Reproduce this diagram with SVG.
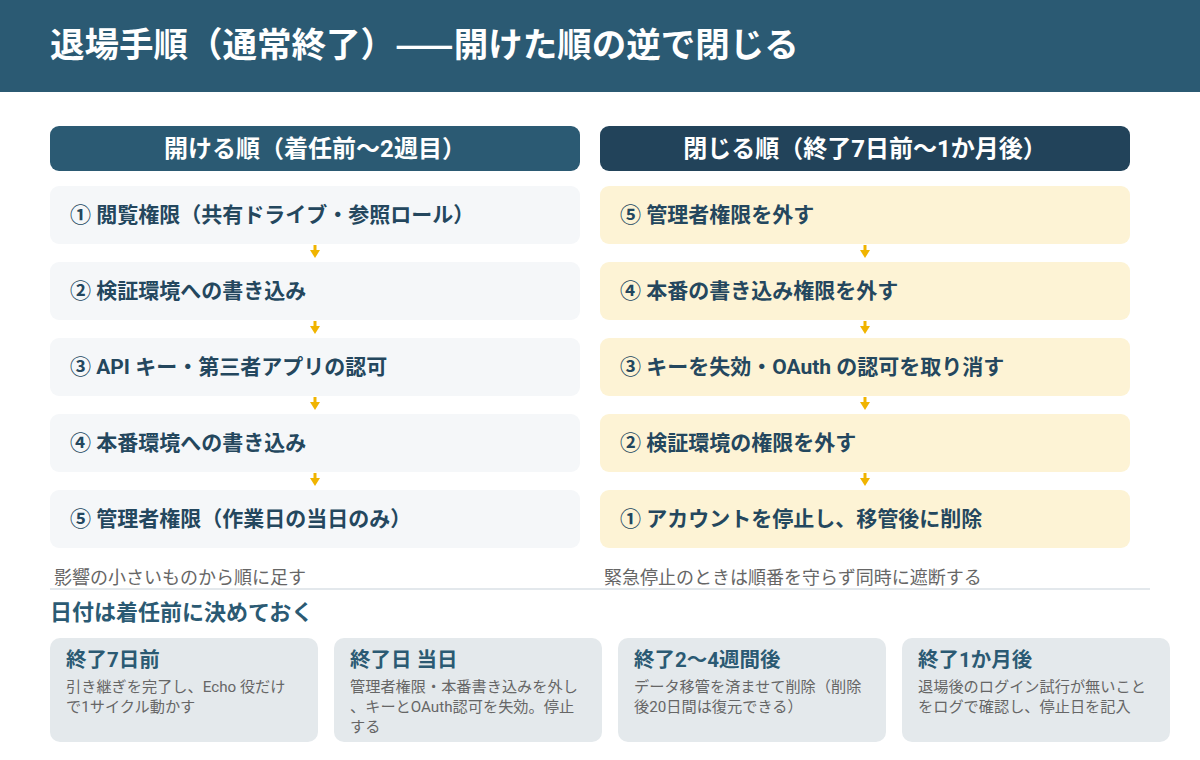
<svg xmlns="http://www.w3.org/2000/svg" width="1200" height="760" viewBox="0 0 1200 760">
<defs>
<style>
text{font-family:Roboto,"Noto Sans CJK JP","Noto Sans",sans-serif}
.title{font-size:34.5px;font-weight:700;fill:#ffffff;font-family:"Noto Sans CJK JP",sans-serif}
.colh{font-size:24px;font-weight:700;fill:#ffffff}
.step{font-size:21px;font-weight:700;fill:#24475e}
.boxL{fill:#f5f7f9}
.boxR{fill:#fdf3d5}
.note{font-size:18px;fill:#666666}
.sec{font-size:22px;font-weight:700;fill:#2b5a73}
.card{fill:#e4e9ec}
.ct{font-size:20.5px;font-weight:700;fill:#2b5a73}
.cb{font-size:15.2px;fill:#666666}
.arr{stroke:#f0b400;stroke-width:3;fill:none}
.ah{fill:#f0b400}
</style>
</defs>
<rect x="0" y="0" width="1200" height="92" fill="#2b5a73"/>
<text class="title" x="50" y="57">退場手順（通常終了）——開けた順の逆で閉じる</text>

<g id="colhead-open">
<rect x="50" y="126" width="530" height="45" rx="9" fill="#2b5a73"/>
<text class="colh" x="315" y="157" text-anchor="middle">開ける順（着任前〜2週目）</text>
</g>
<g id="colhead-close">
<rect x="600" y="126" width="530" height="45" rx="9" fill="#22435a"/>
<text class="colh" x="865" y="157" text-anchor="middle">閉じる順（終了7日前〜1か月後）</text>
</g>

<g id="open1"><rect class="boxL" x="50" y="186" width="530" height="58" rx="9"/><text class="step" x="70" y="222">① 閲覧権限（共有ドライブ・参照ロール）</text></g>
<g id="open2"><rect class="boxL" x="50" y="262" width="530" height="58" rx="9"/><text class="step" x="70" y="298">② 検証環境への書き込み</text></g>
<g id="open3"><rect class="boxL" x="50" y="338" width="530" height="58" rx="9"/><text class="step" x="70" y="374">③ API キー・第三者アプリの認可</text></g>
<g id="open4"><rect class="boxL" x="50" y="414" width="530" height="58" rx="9"/><text class="step" x="70" y="450">④ 本番環境への書き込み</text></g>
<g id="open5"><rect class="boxL" x="50" y="490" width="530" height="58" rx="9"/><text class="step" x="70" y="526">⑤ 管理者権限（作業日の当日のみ）</text></g>

<g id="close5"><rect class="boxR" x="600" y="186" width="530" height="58" rx="9"/><text class="step" x="620" y="222">⑤ 管理者権限を外す</text></g>
<g id="close4"><rect class="boxR" x="600" y="262" width="530" height="58" rx="9"/><text class="step" x="620" y="298">④ 本番の書き込み権限を外す</text></g>
<g id="close3"><rect class="boxR" x="600" y="338" width="530" height="58" rx="9"/><text class="step" x="620" y="374">③ キーを失効・OAuth の認可を取り消す</text></g>
<g id="close2"><rect class="boxR" x="600" y="414" width="530" height="58" rx="9"/><text class="step" x="620" y="450">② 検証環境の権限を外す</text></g>
<g id="close1"><rect class="boxR" x="600" y="490" width="530" height="58" rx="9"/><text class="step" x="620" y="526">① アカウントを停止し、移管後に削除</text></g>

<g id="connectors">
<line class="arr" x1="315" y1="245" x2="315" y2="251"/><path class="ah" d="M310,250 L320,250 L315,258 Z"/>
<line class="arr" x1="315" y1="321" x2="315" y2="327"/><path class="ah" d="M310,326 L320,326 L315,334 Z"/>
<line class="arr" x1="315" y1="397" x2="315" y2="403"/><path class="ah" d="M310,402 L320,402 L315,410 Z"/>
<line class="arr" x1="315" y1="473" x2="315" y2="479"/><path class="ah" d="M310,478 L320,478 L315,486 Z"/>
<line class="arr" x1="865" y1="245" x2="865" y2="251"/><path class="ah" d="M860,250 L870,250 L865,258 Z"/>
<line class="arr" x1="865" y1="321" x2="865" y2="327"/><path class="ah" d="M860,326 L870,326 L865,334 Z"/>
<line class="arr" x1="865" y1="397" x2="865" y2="403"/><path class="ah" d="M860,402 L870,402 L865,410 Z"/>
<line class="arr" x1="865" y1="473" x2="865" y2="479"/><path class="ah" d="M860,478 L870,478 L865,486 Z"/>
</g>

<text class="note" x="54" y="584">影響の小さいものから順に足す</text>
<text class="note" x="604" y="584">緊急停止のときは順番を守らず同時に遮断する</text>
<rect x="50" y="588" width="1100" height="2" fill="#e3e8ec"/>
<text class="sec" x="50" y="620">日付は着任前に決めておく</text>

<g id="card1"><rect class="card" x="50" y="638" width="268" height="104" rx="10"/>
<text class="ct" x="66" y="667">終了7日前</text>
<text class="cb" x="66" y="692">引き継ぎを完了し、Echo 役だけ</text>
<text class="cb" x="66" y="712">で1サイクル動かす</text></g>
<g id="card2"><rect class="card" x="334" y="638" width="268" height="104" rx="10"/>
<text class="ct" x="350" y="667">終了日 当日</text>
<text class="cb" x="350" y="692">管理者権限・本番書き込みを外し</text>
<text class="cb" x="350" y="712">、キーとOAuth認可を失効。停止</text>
<text class="cb" x="350" y="732">する</text></g>
<g id="card3"><rect class="card" x="618" y="638" width="268" height="104" rx="10"/>
<text class="ct" x="634" y="667">終了2〜4週間後</text>
<text class="cb" x="634" y="692">データ移管を済ませて削除（削除</text>
<text class="cb" x="634" y="712">後20日間は復元できる）</text></g>
<g id="card4"><rect class="card" x="902" y="638" width="268" height="104" rx="10"/>
<text class="ct" x="918" y="667">終了1か月後</text>
<text class="cb" x="918" y="692">退場後のログイン試行が無いこと</text>
<text class="cb" x="918" y="712">をログで確認し、停止日を記入</text></g>
</svg>
